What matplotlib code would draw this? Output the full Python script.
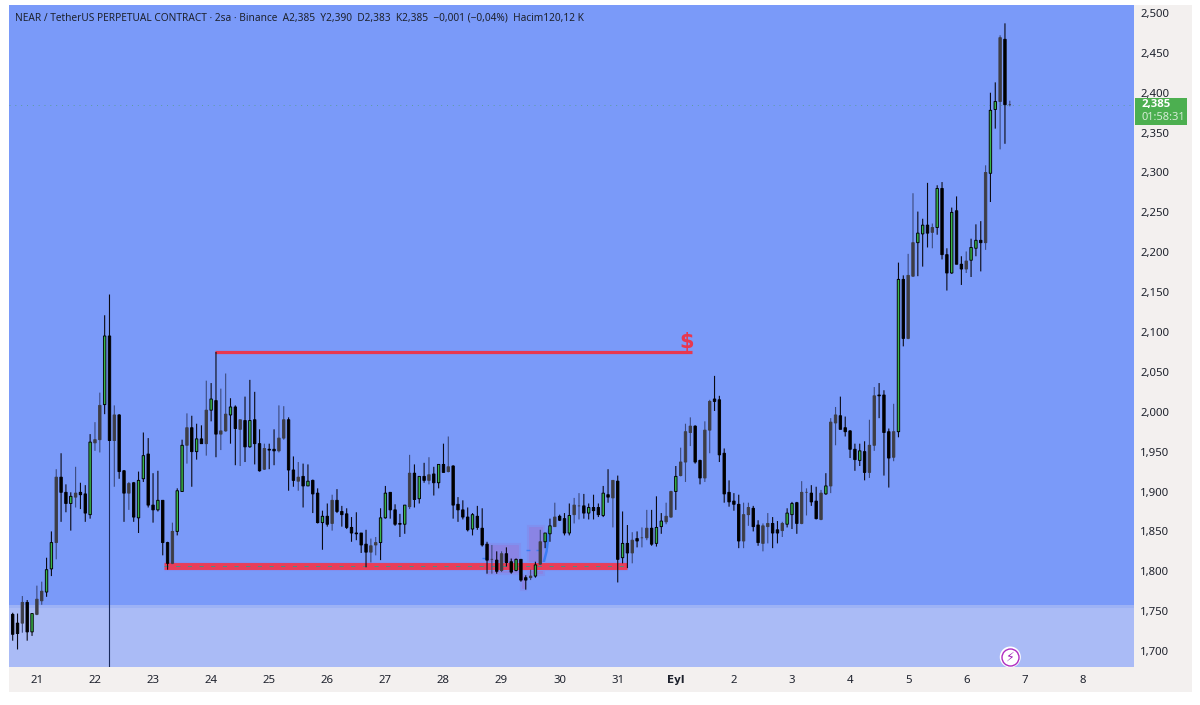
import matplotlib
matplotlib.use("Agg")
import matplotlib.pyplot as plt
from matplotlib.patches import Rectangle

# NEAR / USDT 2h candles
opens = [1.746, 1.735, 1.735, 1.761, 1.724, 1.746, 1.763, 1.774, 1.803, 1.836,
         1.918, 1.899, 1.885, 1.893, 1.899, 1.897, 1.871, 1.961, 1.965, 2.009,
         2.095, 1.964, 1.996, 1.926, 1.898, 1.911, 1.867, 1.916, 1.947, 1.883,
         1.877, 1.889, 1.836, 1.810, 1.850, 1.900, 1.958, 1.980, 1.950, 1.966,
         1.960, 2.002, 2.014, 1.972, 1.976, 1.996, 2.006, 1.978, 1.989, 1.956,
         1.990, 1.960, 1.928, 1.953, 1.953, 1.951, 1.967, 1.990, 1.927, 1.913,
         1.919, 1.907, 1.914, 1.898, 1.861, 1.869, 1.860, 1.889, 1.875, 1.872,
         1.855, 1.848, 1.848, 1.834, 1.824, 1.833, 1.836, 1.867, 1.899, 1.877,
         1.860, 1.859, 1.881, 1.923, 1.891, 1.919, 1.914, 1.922, 1.911, 1.934,
         1.925, 1.932, 1.884, 1.877, 1.868, 1.853, 1.869, 1.854, 1.834, 1.815,
         1.814, 1.801, 1.822, 1.812, 1.801, 1.815, 1.792, 1.792, 1.794, 1.809,
         1.837, 1.847, 1.856, 1.869, 1.866, 1.848, 1.871, 1.882, 1.882, 1.873,
         1.880, 1.880, 1.870, 1.896, 1.892, 1.913, 1.817, 1.835, 1.823, 1.841,
         1.842, 1.842, 1.854, 1.835, 1.856, 1.862, 1.868, 1.900, 1.920, 1.937,
         1.974, 1.982, 1.939, 1.917, 1.977, 2.016, 2.015, 1.948, 1.899, 1.888,
         1.884, 1.838, 1.871, 1.879, 1.858, 1.835, 1.856, 1.860, 1.852, 1.851,
         1.859, 1.871, 1.886, 1.860, 1.899, 1.898, 1.888, 1.865, 1.897, 1.907,
         1.986, 1.995, 1.980, 1.976, 1.953, 1.939, 1.950, 1.924, 1.958, 2.021,
         2.021, 1.975, 1.943, 1.975, 2.166, 2.092, 2.170, 2.212, 2.223, 2.234,
         2.225, 2.231, 2.280, 2.197, 2.174, 2.252, 2.185, 2.179, 2.190, 2.205,
         2.215, 2.212, 2.299, 2.379, 2.389, 2.467, 2.385]
highs = [1.748, 1.747, 1.769, 1.764, 1.747, 1.782, 1.787, 1.817, 1.850, 1.928,
         1.948, 1.909, 1.899, 1.931, 1.911, 1.908, 1.972, 1.987, 2.024, 2.121,
         2.147, 2.008, 1.997, 1.927, 1.912, 1.912, 1.925, 1.974, 1.967, 1.923,
         1.926, 1.889, 1.837, 1.861, 1.904, 1.965, 1.998, 1.995, 1.985, 1.983,
         2.039, 2.036, 2.075, 2.029, 2.048, 2.017, 2.008, 1.990, 2.019, 2.040,
         2.025, 1.978, 1.960, 1.960, 1.978, 2.008, 2.007, 1.993, 1.944, 1.937,
         1.935, 1.934, 1.915, 1.904, 1.876, 1.885, 1.896, 1.903, 1.882, 1.879,
         1.868, 1.874, 1.848, 1.852, 1.841, 1.843, 1.879, 1.907, 1.899, 1.884,
         1.872, 1.883, 1.946, 1.934, 1.919, 1.936, 1.943, 1.931, 1.934, 1.960,
         1.969, 1.933, 1.893, 1.889, 1.880, 1.873, 1.882, 1.879, 1.837, 1.833,
         1.825, 1.825, 1.830, 1.816, 1.816, 1.815, 1.795, 1.802, 1.812, 1.852,
         1.848, 1.866, 1.886, 1.871, 1.873, 1.885, 1.892, 1.898, 1.897, 1.885,
         1.896, 1.885, 1.907, 1.928, 1.914, 1.920, 1.875, 1.858, 1.849, 1.850,
         1.855, 1.877, 1.877, 1.894, 1.873, 1.886, 1.901, 1.932, 1.955, 1.985,
         1.993, 1.983, 1.940, 1.988, 2.015, 2.045, 2.020, 1.954, 1.914, 1.898,
         1.896, 1.886, 1.886, 1.882, 1.864, 1.860, 1.873, 1.868, 1.863, 1.862,
         1.879, 1.887, 1.887, 1.913, 1.904, 1.908, 1.906, 1.902, 1.923, 1.992,
         2.006, 2.019, 1.994, 1.977, 1.960, 1.960, 1.963, 1.990, 2.031, 2.036,
         2.027, 1.979, 2.010, 2.187, 2.171, 2.198, 2.274, 2.251, 2.242, 2.287,
         2.236, 2.284, 2.288, 2.205, 2.256, 2.270, 2.195, 2.201, 2.217, 2.235,
         2.239, 2.309, 2.400, 2.413, 2.472, 2.487, 2.390]
lows = [1.713, 1.702, 1.723, 1.713, 1.719, 1.745, 1.758, 1.768, 1.794, 1.815,
        1.862, 1.874, 1.851, 1.880, 1.878, 1.862, 1.866, 1.951, 1.949, 1.997,
        1.964, 1.906, 1.916, 1.862, 1.877, 1.862, 1.848, 1.912, 1.880, 1.861,
        1.875, 1.820, 1.802, 1.809, 1.845, 1.900, 1.935, 1.906, 1.940, 1.960,
        1.945, 1.988, 1.943, 1.952, 1.975, 1.960, 1.933, 1.932, 1.937, 1.955,
        1.934, 1.925, 1.927, 1.928, 1.933, 1.949, 1.965, 1.901, 1.906, 1.901,
        1.880, 1.907, 1.873, 1.860, 1.827, 1.856, 1.851, 1.873, 1.856, 1.853,
        1.837, 1.839, 1.823, 1.805, 1.811, 1.820, 1.814, 1.866, 1.866, 1.857,
        1.843, 1.847, 1.878, 1.880, 1.885, 1.911, 1.909, 1.895, 1.904, 1.924,
        1.924, 1.866, 1.862, 1.865, 1.850, 1.845, 1.852, 1.831, 1.797, 1.797,
        1.797, 1.799, 1.806, 1.797, 1.800, 1.787, 1.777, 1.789, 1.792, 1.808,
        1.829, 1.837, 1.856, 1.863, 1.845, 1.845, 1.860, 1.865, 1.866, 1.865,
        1.865, 1.868, 1.868, 1.886, 1.855, 1.786, 1.810, 1.804, 1.810, 1.830,
        1.830, 1.839, 1.832, 1.831, 1.847, 1.859, 1.867, 1.877, 1.919, 1.912,
        1.957, 1.935, 1.909, 1.912, 1.948, 2.001, 1.937, 1.886, 1.881, 1.876,
        1.829, 1.829, 1.857, 1.850, 1.832, 1.825, 1.835, 1.829, 1.835, 1.843,
        1.855, 1.853, 1.847, 1.859, 1.870, 1.882, 1.865, 1.864, 1.896, 1.898,
        1.958, 1.978, 1.969, 1.942, 1.926, 1.932, 1.914, 1.917, 1.951, 1.992,
        1.920, 1.905, 1.938, 1.968, 2.082, 2.091, 2.169, 2.170, 2.182, 2.206,
        2.205, 2.222, 2.191, 2.152, 2.173, 2.185, 2.159, 2.174, 2.169, 2.195,
        2.176, 2.203, 2.263, 2.355, 2.329, 2.336, 2.383]
closes = [1.721, 1.722, 1.761, 1.724, 1.747, 1.765, 1.775, 1.802, 1.836, 1.918,
          1.899, 1.885, 1.894, 1.898, 1.896, 1.873, 1.962, 1.965, 2.008, 2.095,
          1.964, 1.996, 1.925, 1.898, 1.910, 1.868, 1.914, 1.945, 1.883, 1.877,
          1.889, 1.836, 1.810, 1.850, 1.901, 1.958, 1.980, 1.950, 1.966, 1.960,
          2.002, 2.016, 1.972, 1.976, 1.997, 2.006, 1.979, 1.990, 1.956, 1.989,
          1.960, 1.926, 1.954, 1.952, 1.951, 1.967, 1.990, 1.927, 1.914, 1.918,
          1.907, 1.913, 1.897, 1.861, 1.869, 1.859, 1.889, 1.875, 1.871, 1.855,
          1.848, 1.847, 1.833, 1.824, 1.832, 1.836, 1.867, 1.898, 1.877, 1.859,
          1.859, 1.883, 1.923, 1.890, 1.919, 1.914, 1.921, 1.911, 1.934, 1.924,
          1.931, 1.883, 1.877, 1.868, 1.852, 1.871, 1.855, 1.833, 1.814, 1.815,
          1.800, 1.822, 1.811, 1.799, 1.815, 1.789, 1.789, 1.794, 1.808, 1.837,
          1.848, 1.857, 1.868, 1.864, 1.848, 1.870, 1.883, 1.882, 1.873, 1.880,
          1.876, 1.871, 1.898, 1.893, 1.914, 1.815, 1.835, 1.823, 1.839, 1.838,
          1.842, 1.854, 1.834, 1.855, 1.863, 1.869, 1.900, 1.919, 1.937, 1.975,
          1.982, 1.937, 1.917, 1.977, 2.013, 2.013, 1.946, 1.897, 1.887, 1.884,
          1.838, 1.871, 1.880, 1.856, 1.836, 1.857, 1.860, 1.848, 1.848, 1.860,
          1.873, 1.885, 1.860, 1.899, 1.899, 1.887, 1.866, 1.898, 1.907, 1.987,
          1.996, 1.978, 1.975, 1.953, 1.940, 1.951, 1.924, 1.958, 2.020, 2.020,
          1.974, 1.942, 1.975, 2.166, 2.092, 2.171, 2.212, 2.224, 2.234, 2.224,
          2.231, 2.280, 2.197, 2.174, 2.250, 2.185, 2.179, 2.189, 2.206, 2.215,
          2.212, 2.300, 2.378, 2.389, 2.469, 2.385, 2.385]

# up candles where the green centre really shows in the screenshot
green_candles = [4, 7, 8, 12, 16, 19, 26, 27, 30, 34, 35, 38, 41, 45, 49, 61, 64, 76, 77, 81,
                 84, 88, 95, 104, 108, 110, 111, 115, 119, 122, 126, 133, 134, 137, 160, 161,
                 168, 175, 183, 187, 188, 191, 194, 198, 199, 202, 203]

price_ticks = [1.70, 1.75, 1.80, 1.85, 1.90, 1.95, 2.00, 2.05, 2.10, 2.15, 2.20, 2.25, 2.30, 2.35, 2.40, 2.45, 2.50]
day_ticks = [5, 17, 29, 41, 53, 65, 77, 89, 101, 113, 125, 137, 149, 161, 173, 185, 197, 209, 221]
day_labels = ["21", "22", "23", "24", "25", "26", "27", "28", "29", "30", "31", "Eyl", "2", "3", "4", "5", "6", "7", "8"]

legend_text = "NEAR / TetherUS PERPETUAL CONTRACT · 2sa · Binance  A2,385  Y2,390  D2,383  K2,385  −0,001 (−0,04%)  Hacim120,12 K"
last_price = 2.385
band_top = 1.758
resistance = 2.075
support = 1.807

W, H = 1200, 705
BG = "#7a9af9"
PANEL = "#f3f0ef"
RED = "#e8384f"
plt.rcParams["font.family"] = ["Noto Sans", "DejaVu Sans"]

fig = plt.figure(figsize=(W / 100, H / 100), dpi=100, facecolor="white")
ax = fig.add_axes([9 / W, (H - 667) / H, 1125 / W, 662 / H], facecolor=BG)


def px_rect(x0, y0, x1, y1, color, z):
    fig.add_artist(Rectangle((x0 / W, 1 - y1 / H), (x1 - x0) / W, (y1 - y0) / H,
                             transform=fig.transFigure, facecolor=color, edgecolor="none", zorder=z))


# grey panels for the two axes
px_rect(1134, 5, 1192, 692, PANEL, -1)
px_rect(9, 667, 1192, 692, PANEL, -1)

ax.set_xlim(-0.76, 231.66)
ax.set_ylim(1.680, 2.510)
for side in ax.spines.values():
    side.set_visible(False)

ax.axhspan(1.680, band_top, color="#aabbf6", lw=0, zorder=1)
ax.axhspan(band_top - 0.004, band_top, color="#9db2f5", lw=0, zorder=1)

# price line
ax.axhline(last_price, color="#4f9a78", lw=0.7, ls=(0, (1, 5)), alpha=0.7, zorder=2)

# drawings
for x0, x1, y0, y1 in [(98, 104.8, 1.797, 1.834), (106.5, 109.8, 1.795, 1.857), (105, 106.1, 1.776, 1.795)]:
    ax.add_patch(Rectangle((x0, y0), x1 - x0, y1 - y0, facecolor="#8a84e4", edgecolor="#7f90f0", lw=1.5, zorder=3))
ax.plot([109.4, 110.3, 110.8], [1.804, 1.825, 1.852], color="#3b7cf5", lw=1.8, zorder=3)
ax.hlines([1.817, 1.827, 1.827], [97, 106, 108.1], [98, 106.9, 109], color="#3b7cf5", lw=1, zorder=3)

ax.plot([41.8, 140.4], [resistance, resistance], color=RED, lw=2.3, solid_capstyle="butt", zorder=4)
ax.plot([31.3, 127], [support, support], color="#7f90f0", lw=6.5, solid_capstyle="butt", zorder=4)
ax.plot([31.3, 127], [support, support], color="#e83e5a", lw=5, solid_capstyle="butt", zorder=4)
ax.plot([31.3, 127], [support, support], color="#2a9d8f", lw=0.6, ls=(0, (5, 9)), zorder=4)
ax.text(139.2, 2.087, "$", color=RED, fontsize=15, fontweight="bold", family=["DejaVu Sans"],
        ha="center", va="center", zorder=4)

# vertical line under candle 20, down to the bottom of the chart
ax.vlines(20, 1.680, closes[20], color="#1a2a5c", lw=0.8, zorder=5)

# candles
for i in range(len(opens)):
    up = closes[i] >= opens[i]
    green = i in green_candles
    if up and green:
        face, wick = "#39b54a", "#0a0a14"
    elif up:
        face, wick = "#3d3d45", "#3c4a7c"
    else:
        face, wick = "black", "#0a0a14"
    line = ax.vlines(i, lows[i], highs[i], color=wick, lw=0.8, zorder=6)
    line.set_snap(False)
    bottom = min(opens[i], closes[i])
    height = abs(closes[i] - opens[i])
    edge = "#3d3d45" if up and not green else "black"
    body = ax.bar(i, height, 0.5, bottom=bottom, color=face, edgecolor=edge, lw=0.65, zorder=7)
    body[0].set_snap(False)

ax.set_yticks(price_ticks)
ax.set_yticklabels([f"{p:.3f}".replace(".", ",") for p in price_ticks])
ax.yaxis.tick_right()
ax.set_xticks(day_ticks)
ax.set_xticklabels(day_labels)
ax.tick_params(axis="y", length=0, pad=4.5, labelsize=8.2, labelcolor="#1e222d")
ax.tick_params(axis="x", length=0, pad=6, labelsize=8.2, labelcolor="#1e222d")
for lab in ax.get_xticklabels():
    if lab.get_text() == "Eyl":
        lab.set_fontweight("bold")
        lab.set_family(["DejaVu Sans"])
        lab.set_fontsize(7.5)

# legend line
fig.text(15 / W, 1 - 18 / H, legend_text, fontsize=7.3, color="#1e222d", va="center", ha="left")

# last price badge
px_rect(1135, 98, 1187, 125, "#4caf50", 5)
fig.text(1142 / W, 1 - 105 / H, "2,385", color="white", fontsize=8.2, fontweight="bold", family=["Open Sans", "DejaVu Sans"],
         va="center", ha="left", zorder=6)
fig.text(1142 / W, 1 - 117 / H, "01:58:31", color="#d5ecd6", fontsize=8, va="center", ha="left", zorder=6)

# bolt icon
ax.scatter([206.1], [1.6925], s=230, facecolor="white", edgecolor="none", zorder=8, clip_on=False)
ax.scatter([206.1], [1.6925], s=150, facecolor="white", edgecolor="#b02cc0", lw=1, zorder=8, clip_on=False)
ax.text(206.1, 1.6925, "⚡", color="#a020b8", fontsize=9, ha="center", va="center",
        family=["DejaVu Sans"], zorder=9)

fig.savefig("out.png", dpi=100)
